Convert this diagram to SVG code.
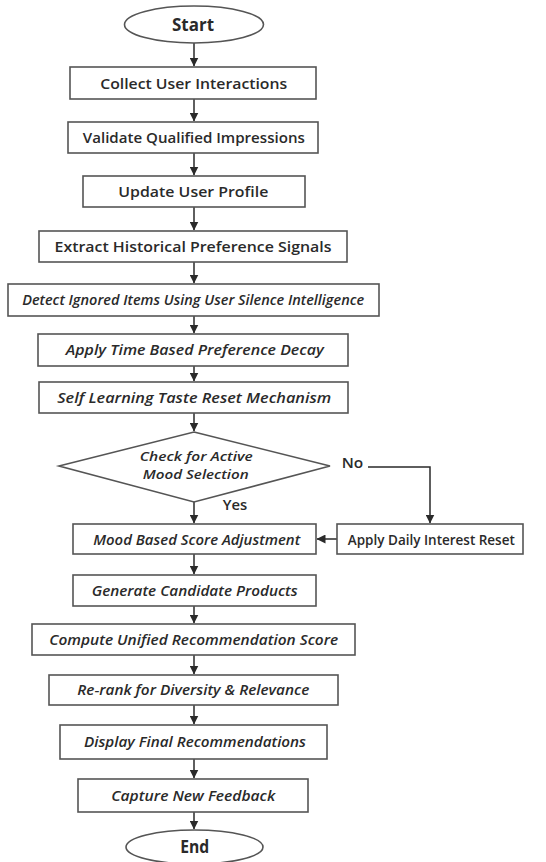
<svg xmlns="http://www.w3.org/2000/svg" width="546" height="862" viewBox="0 0 546 862">
<defs>
<marker id="ah" markerWidth="9" markerHeight="9" refX="8.5" refY="4.5" orient="auto" markerUnits="userSpaceOnUse">
<path d="M0,0 L9,4.5 L0,9 Z" fill="#2a2a2a"/>
</marker>
<style>
.box{fill:#fff;stroke:#555;stroke-width:1.6}
.t{font-family:"Open Sans","Liberation Sans",sans-serif;font-size:15px;font-weight:600;fill:#2a2a2a;text-anchor:middle}
.i{font-style:italic}
.b{font-weight:700;font-size:17px}
.s{font-size:13px}
.c{stroke:#2a2a2a;stroke-width:1.5;fill:none}
</style>
</defs>
<rect width="546" height="862" fill="#fff"/>
<g id="connectors">
<line class="c" x1="194" y1="43" x2="194" y2="66" marker-end="url(#ah)"/>
<line class="c" x1="194" y1="99" x2="194" y2="121" marker-end="url(#ah)"/>
<line class="c" x1="194" y1="153" x2="194" y2="175" marker-end="url(#ah)"/>
<line class="c" x1="194" y1="207" x2="194" y2="230" marker-end="url(#ah)"/>
<line class="c" x1="194" y1="262" x2="194" y2="283" marker-end="url(#ah)"/>
<line class="c" x1="194" y1="316" x2="194" y2="333" marker-end="url(#ah)"/>
<line class="c" x1="194" y1="366" x2="194" y2="381" marker-end="url(#ah)"/>
<line class="c" x1="194" y1="413" x2="194" y2="431" marker-end="url(#ah)"/>
<line class="c" x1="194" y1="502" x2="194" y2="523" marker-end="url(#ah)"/>
<polyline class="c" points="368,467 430,467 430,523" marker-end="url(#ah)"/>
<line class="c" x1="337" y1="539" x2="317" y2="539" marker-end="url(#ah)"/>
<line class="c" x1="194" y1="554" x2="194" y2="574" marker-end="url(#ah)"/>
<line class="c" x1="194" y1="606" x2="194" y2="623" marker-end="url(#ah)"/>
<line class="c" x1="194" y1="655" x2="194" y2="674" marker-end="url(#ah)"/>
<line class="c" x1="194" y1="705" x2="194" y2="724" marker-end="url(#ah)"/>
<line class="c" x1="194" y1="759" x2="194" y2="778" marker-end="url(#ah)"/>
<line class="c" x1="194" y1="812" x2="194" y2="829" marker-end="url(#ah)"/>
<text class="t" x="352.5" y="468" textLength="21.5" lengthAdjust="spacingAndGlyphs">No</text>
<text class="t" x="235" y="510" textLength="24.5" lengthAdjust="spacingAndGlyphs">Yes</text>
</g>
<g id="start"><ellipse class="box" cx="194" cy="24.5" rx="69.5" ry="18.5"/><text class="t b" x="193" y="30.5" textLength="42" lengthAdjust="spacingAndGlyphs">Start</text></g>
<g id="collect"><rect class="box" x="70" y="67" width="246" height="32"/><text class="t" x="193.7" y="88.5" textLength="187" lengthAdjust="spacingAndGlyphs">Collect User Interactions</text></g>
<g id="validate"><rect class="box" x="68" y="122" width="250" height="31"/><text class="t" x="193.8" y="142.5" textLength="222" lengthAdjust="spacingAndGlyphs">Validate Qualified Impressions</text></g>
<g id="update"><rect class="box" x="83" y="176" width="222" height="31"/><text class="t" x="193.3" y="196.5" textLength="150" lengthAdjust="spacingAndGlyphs">Update User Profile</text></g>
<g id="extract"><rect class="box" x="39" y="231" width="308" height="31"/><text class="t" x="193" y="251.5" textLength="277" lengthAdjust="spacingAndGlyphs">Extract Historical Preference Signals</text></g>
<g id="detect"><rect class="box" x="8" y="284" width="371" height="32"/><text class="t i" x="193.2" y="304.5" textLength="342" lengthAdjust="spacingAndGlyphs">Detect Ignored Items Using User Silence Intelligence</text></g>
<g id="decay"><rect class="box" x="38" y="334" width="310" height="32"/><text class="t i" x="194.8" y="354.5" textLength="258" lengthAdjust="spacingAndGlyphs">Apply Time Based Preference Decay</text></g>
<g id="tastereset"><rect class="box" x="39" y="382" width="309" height="31"/><text class="t i" x="194.2" y="402.5" textLength="274" lengthAdjust="spacingAndGlyphs">Self Learning Taste Reset Mechanism</text></g>
<g id="decision"><polygon class="box" points="194,432 330,466 194,502 59,466"/><text class="t i s" x="196.3" y="460.5" textLength="113" lengthAdjust="spacingAndGlyphs">Check for Active</text><text class="t i s" x="195.7" y="478.5" textLength="106" lengthAdjust="spacingAndGlyphs">Mood Selection</text></g>
<g id="mood"><rect class="box" x="73" y="524" width="243" height="30"/><text class="t i" x="196.7" y="544.5" textLength="207" lengthAdjust="spacingAndGlyphs">Mood Based Score Adjustment</text></g>
<g id="dailyreset"><rect class="box" x="337" y="524" width="186" height="30"/><text class="t" x="431.3" y="544.5" textLength="167" lengthAdjust="spacingAndGlyphs">Apply Daily Interest Reset</text></g>
<g id="generate"><rect class="box" x="73" y="575" width="243" height="31"/><text class="t i" x="194.7" y="595.5" textLength="206" lengthAdjust="spacingAndGlyphs">Generate Candidate Products</text></g>
<g id="compute"><rect class="box" x="32" y="624" width="323" height="31"/><text class="t i" x="193.7" y="644.5" textLength="289" lengthAdjust="spacingAndGlyphs">Compute Unified Recommendation Score</text></g>
<g id="rerank"><rect class="box" x="49" y="675" width="289" height="30"/><text class="t i" x="193.3" y="695" textLength="232" lengthAdjust="spacingAndGlyphs">Re-rank for Diversity &amp; Relevance</text></g>
<g id="display"><rect class="box" x="60" y="725" width="267" height="34"/><text class="t i" x="195" y="747" textLength="222" lengthAdjust="spacingAndGlyphs">Display Final Recommendations</text></g>
<g id="capture"><rect class="box" x="78" y="779" width="230" height="33"/><text class="t i" x="193.2" y="800.5" textLength="164" lengthAdjust="spacingAndGlyphs">Capture New Feedback</text></g>
<g id="end"><ellipse class="box" cx="194.5" cy="847" rx="68.5" ry="17"/><text class="t b" x="194.7" y="853" textLength="29" lengthAdjust="spacingAndGlyphs">End</text></g>
</svg>
